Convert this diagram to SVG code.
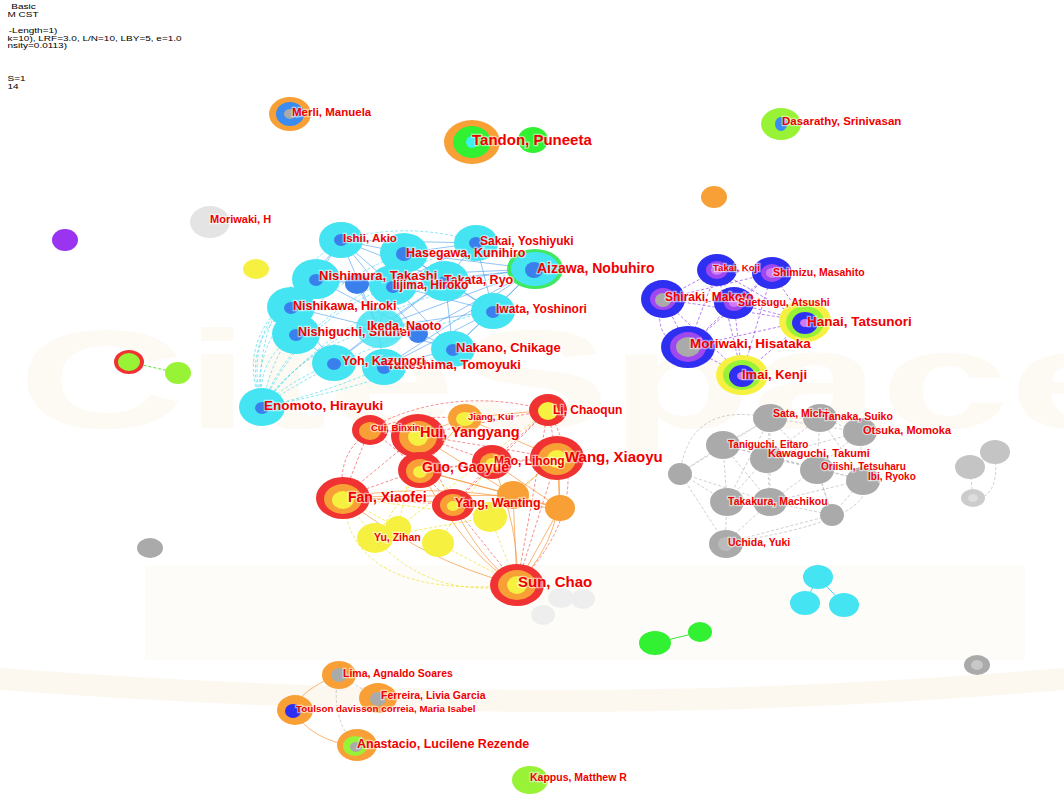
<svg xmlns="http://www.w3.org/2000/svg" width="1064" height="794" viewBox="0 0 1064 794">
<style>
text{font-family:"Liberation Sans",Arial,sans-serif;font-weight:bold;fill:#f00000;stroke:#ffffff;stroke-opacity:0.55;stroke-width:2.5px;paint-order:stroke;}
.hdr{fill:#000;stroke:none;font-weight:normal;font-size:8px}
.cy{fill:#44e4f2}.bd{fill:#3a80ec}.gr{fill:#32f032}.lg{fill:#98f236}
.bl{fill:#2f2ff2}.pu{fill:#a048f0}.pk{fill:#cf7af2}.gy{fill:#aaaaaa}
.yw{fill:#f6f040}.rd{fill:#f03232}.or{fill:#f8a036}.ly{fill:#c8c8c8}
.ec{stroke:#2a8ff0;stroke-width:0.8;fill:none;opacity:0.65}
.ec2{stroke:#40d8f0;stroke-width:0.8;fill:none;opacity:0.8;stroke-dasharray:3 2}
.ep{stroke:#9040e8;stroke-width:0.9;fill:none;opacity:0.75;stroke-dasharray:3 2}
.er{stroke:#f03030;stroke-width:0.8;fill:none;opacity:0.7;stroke-dasharray:3 2}
.eo{stroke:#f89030;stroke-width:0.9;fill:none;opacity:0.75}
.ey{stroke:#f0e030;stroke-width:0.9;fill:none;opacity:0.8;stroke-dasharray:3 2}
.eg{stroke:#a0a0a0;stroke-width:0.7;fill:none;opacity:0.7;stroke-dasharray:3 2}
.egn{stroke:#60e030;stroke-width:1;fill:none;stroke-dasharray:3 2}
</style>
<rect width="1064" height="794" fill="#ffffff"/>
<g id="watermark" opacity="0.4">
<text x="18" y="428" style="font-size:140px;fill:#fbf3e2;stroke:none" textLength="1120" lengthAdjust="spacingAndGlyphs">CiteSpace</text>
<rect x="145" y="565" width="880" height="95" fill="#fcf8ef"/>
<path d="M0,668 Q300,690 560,690 Q800,690 1064,668 L1064,690 Q800,712 560,712 Q300,712 0,690 Z" fill="#faf0dc"/>
</g>
<g id="header" transform="scale(1.25,1)">
<text class="hdr" x="9" y="9">Basic</text>
<text class="hdr" x="6" y="17">M CST</text>
<text class="hdr" x="7" y="33">-Length=1)</text>
<text class="hdr" x="6" y="41">k=10), LRF=3.0, L/N=10, LBY=5, e=1.0</text>
<text class="hdr" x="6" y="48">nsity=0.0113)</text>
<text class="hdr" x="6" y="81">S=1</text>
<text class="hdr" x="6" y="89">14</text>
</g>
<g id="connectors">
<path class="ec" d="M341,240L404,253M341,240L316,279M341,240L393,285M341,240L445,281M341,240L476,243M341,240L291,307M341,240L378,328M404,253L476,243M404,253L445,281M404,253L393,285M404,253L535,269M404,253L493,311M476,243L535,269M476,243L445,281M476,243L493,311M535,269L445,281M535,269L493,311M535,269L453,349M535,269L393,285M535,269L378,328M535,269L384,367M316,279L357,284M316,279L393,285M316,279L291,307M316,279L296,334M357,284L393,285M357,284L378,328M393,285L445,281M393,285L378,328M393,285L493,311M393,285L453,349M445,281L493,311M445,281L453,349M445,281L378,328M291,307L296,334M291,307L378,328M291,307L334,363M493,311L453,349M493,311L378,328M296,334L378,328M453,349L378,328M334,363L378,328M384,367L378,328M296,334L334,363M453,349L384,367M334,363L384,367M535,269L316,279M476,243L393,285M445,281L334,363M493,311L384,367M418,333L535,269M418,333L341,240M418,333L453,349M418,333L316,279"/>
<path class="ec2" d="M262,407Q250,300 341,240M262,407Q280,300 404,253M262,407Q300,300 476,243M262,407Q330,310 535,269M262,407Q240,320 316,279M262,407Q300,320 393,285M262,407Q330,320 445,281M262,407Q240,340 291,307M262,407Q360,340 493,311M262,407Q300,350 378,328M262,407Q255,360 296,334M262,407Q380,385 453,349M262,407Q290,380 334,363M262,407Q320,395 384,367M341,240Q440,212 535,269M291,307Q250,360 262,407M316,279Q230,330 262,407"/>
<path class="ep" d="M717,270L772,273M717,270L663,299M717,270L734,303M717,270L805,321M717,270L688,347M717,270L742,375M772,273L663,299M772,273L734,303M772,273L805,321M772,273L688,347M772,273L742,375M663,299L734,303M663,299L805,321M663,299L688,347M663,299L742,375M734,303L805,321M734,303L688,347M734,303L742,375M805,321L688,347M805,321L742,375M688,347L742,375M663,299Q650,340 688,347"/>
<path class="er" d="M343,497L370,428M343,497L418,435M343,497L420,470M343,497L453,505M370,428L418,435M370,428L420,470M418,435L420,470M418,435L492,462M418,435L548,410M418,435L557,458M418,435L453,505M420,470L492,462M420,470L453,505M420,470L557,458M492,462L557,458M492,462L548,410M492,462L453,505M548,410L557,458M548,410L453,505M548,410L517,585M557,458L517,585M453,505L517,585M370,428Q450,385 548,410M343,497Q330,410 465,418M548,410Q600,500 517,585"/>
<path class="eo" d="M343,497L513,495M343,497L560,508M420,470L513,495M420,470L560,508M418,435L513,495M492,462L560,508M557,458L513,495M557,458L560,508M513,495L517,585M560,508L517,585M465,418L418,435M465,418L548,410M465,418L557,458M465,418L420,470M343,497Q450,480 560,508M453,505Q480,560 517,585M420,470Q470,560 517,585M492,462Q520,530 517,585M343,497Q420,560 517,585M557,458Q570,530 517,585"/>
<path class="ey" d="M343,497L375,538M343,497L490,517M375,538L420,470M398,528L418,435M438,543L517,585M490,517L517,585M490,517L557,458M490,517L420,470M375,538Q430,600 517,585M343,497Q350,600 517,585M375,538L490,517M398,528L548,410M438,543L492,462M343,497L398,528"/>
<path class="eg" d="M770,418L820,418M770,418L860,432M770,418L723,445M770,418L767,457M770,418L817,468M770,418L727,502M770,418L770,502M820,418L860,432M820,418L767,457M820,418L817,468M820,418L863,480M860,432L817,468M860,432L863,480M860,432L767,457M723,445L767,457M723,445L680,473M723,445L727,502M723,445L817,468M723,445L770,502M767,457L817,468M767,457L727,502M767,457L770,502M767,457L863,480M817,468L863,480M817,468L770,502M817,468L832,515M863,480L832,515M863,480L770,502M680,473L727,502M680,473L770,418M680,473L725,543M680,473L770,502M727,502L770,502M727,502L725,543M770,502L832,515M770,502L725,543M832,515L725,543M832,515L817,468M680,473Q690,400 770,418M725,543Q880,520 863,480M970,467L995,452M970,467L973,498M995,452Q1000,500 973,498"/>
<path class="eo" d="M338,675Q300,690 293,710M293,710Q310,740 357,747"/>
<path class="eg" d="M338,675L378,698M338,675Q330,720 357,747"/>
<path class="egn" d="M129,362L178,373"/>
<path d="M655,643L700,632" stroke="#40e040" stroke-width="1"/>
<path d="M818,577L805,603M818,577L844,605" stroke="#40e0f0" stroke-width="1"/>
</g>
<g id="n-merli"><ellipse cx="290" cy="114" rx="21" ry="17" class="or"/><ellipse cx="290" cy="114" rx="14" ry="12" fill="#3a8cf0"/><ellipse cx="290" cy="114" rx="6" ry="5" class="gy"/></g>
<g id="n-tandon-g"><ellipse cx="533" cy="140" rx="15" ry="13" class="gr"/></g>
<g id="n-tandon"><ellipse cx="472" cy="142" rx="28" ry="22" class="or"/><ellipse cx="472" cy="142" rx="19" ry="16" class="gr"/><ellipse cx="472" cy="142" rx="6" ry="6" fill="#40f0f0"/></g>
<g id="n-dasarathy"><ellipse cx="781" cy="124" rx="20" ry="16" class="lg"/><ellipse cx="781" cy="124" rx="6" ry="7" fill="#3a8cf0"/></g>
<g id="n-o1"><ellipse cx="714" cy="197" rx="13" ry="11" class="or"/></g>
<g id="n-moriwakih"><ellipse cx="210" cy="222" rx="20" ry="16" fill="#e4e4e4"/></g>
<g id="n-p1"><ellipse cx="65" cy="240" rx="13" ry="11" fill="#9a34f0"/></g>
<g id="n-y1"><ellipse cx="256" cy="269" rx="13" ry="10" class="yw"/></g>
<g id="n-r1"><ellipse cx="129" cy="362" rx="15" ry="12" class="rd"/><ellipse cx="129" cy="362" rx="11" ry="9" class="lg"/></g>
<g id="n-g1"><ellipse cx="178" cy="373" rx="13" ry="11" class="lg"/></g>
<g id="n-gy1"><ellipse cx="150" cy="548" rx="13" ry="10" class="gy"/></g>
<g id="n-c1"><ellipse cx="818" cy="577" rx="15" ry="12" class="cy"/></g>
<g id="n-c2"><ellipse cx="805" cy="603" rx="15" ry="12" class="cy"/></g>
<g id="n-c3"><ellipse cx="844" cy="605" rx="15" ry="12" class="cy"/></g>
<g id="n-gn1"><ellipse cx="655" cy="643" rx="16" ry="12" class="gr"/></g>
<g id="n-gn2"><ellipse cx="700" cy="632" rx="12" ry="10" class="gr"/></g>
<g id="n-gy2"><ellipse cx="977" cy="665" rx="13" ry="10" class="gy"/><ellipse cx="977" cy="665" rx="6" ry="5" class="ly"/></g>
<g id="n-kappus"><ellipse cx="530" cy="780" rx="18" ry="14" class="lg"/></g>
<g id="n-ishii"><ellipse cx="341" cy="240" rx="22" ry="18" class="cy"/><ellipse cx="341" cy="240" rx="7" ry="6" class="bd"/></g>
<g id="n-sakai"><ellipse cx="476" cy="243" rx="22" ry="18" class="cy"/><ellipse cx="476" cy="243" rx="7" ry="6" class="bd"/></g>
<g id="n-hasegawa"><ellipse cx="404" cy="253" rx="24" ry="20" class="cy"/><ellipse cx="404" cy="254" rx="8" ry="7" class="bd"/></g>
<g id="n-aizawa"><ellipse cx="535" cy="269" rx="28" ry="20" fill="#40e860"/><ellipse cx="535" cy="269" rx="24" ry="17" class="cy"/><ellipse cx="534" cy="270" rx="9" ry="8" class="bd"/></g>
<g id="n-nishimura"><ellipse cx="316" cy="279" rx="24" ry="20" class="cy"/><ellipse cx="316" cy="280" rx="7" ry="6" class="bd"/></g>
<g id="n-b1"><ellipse cx="357" cy="284" rx="12" ry="10" class="bd"/></g>
<g id="n-iijima"><ellipse cx="393" cy="285" rx="24" ry="20" class="cy"/><ellipse cx="393" cy="287" rx="7" ry="6" class="bd"/></g>
<g id="n-takata"><ellipse cx="445" cy="281" rx="24" ry="20" class="cy"/><ellipse cx="445" cy="282" rx="7" ry="6" class="bd"/></g>
<g id="n-nishikawa"><ellipse cx="291" cy="307" rx="24" ry="20" class="cy"/><ellipse cx="291" cy="308" rx="7" ry="6" class="bd"/></g>
<g id="n-iwata"><ellipse cx="493" cy="311" rx="22" ry="18" class="cy"/><ellipse cx="493" cy="312" rx="7" ry="6" class="bd"/></g>
<g id="n-nishiguchi"><ellipse cx="296" cy="334" rx="24" ry="20" class="cy"/><ellipse cx="296" cy="335" rx="7" ry="6" class="bd"/></g>
<g id="n-ikeda"><ellipse cx="380" cy="328" rx="24" ry="20" class="cy" opacity="0.85"/><ellipse cx="418" cy="334" rx="10" ry="9" class="bd"/></g>
<g id="n-nakano"><ellipse cx="453" cy="349" rx="22" ry="18" class="cy"/><ellipse cx="453" cy="350" rx="7" ry="6" class="bd"/></g>
<g id="n-takeshima"><ellipse cx="384" cy="367" rx="22" ry="18" class="cy"/><ellipse cx="384" cy="368" rx="7" ry="6" class="bd"/></g>
<g id="n-yoh"><ellipse cx="334" cy="363" rx="22" ry="18" class="cy"/><ellipse cx="334" cy="364" rx="7" ry="6" class="bd"/></g>
<g id="n-enomoto"><ellipse cx="262" cy="407" rx="23" ry="19" class="cy"/><ellipse cx="262" cy="408" rx="7" ry="6" class="bd"/></g>
<g id="n-takai"><ellipse cx="717" cy="270" rx="20" ry="16" class="bl"/><ellipse cx="717" cy="270" rx="11" ry="9" class="pu"/><ellipse cx="717" cy="270" rx="6" ry="5" class="pk"/></g>
<g id="n-shimizu"><ellipse cx="772" cy="273" rx="20" ry="16" class="bl"/><ellipse cx="772" cy="273" rx="11" ry="9" class="pu"/><ellipse cx="772" cy="273" rx="6" ry="5" class="pk"/></g>
<g id="n-shiraki"><ellipse cx="663" cy="299" rx="22" ry="19" class="bl"/><ellipse cx="663" cy="299" rx="13" ry="11" class="pu"/><ellipse cx="663" cy="300" rx="8" ry="7" class="gy"/></g>
<g id="n-suetsugu"><ellipse cx="734" cy="303" rx="20" ry="16" class="bl"/><ellipse cx="734" cy="303" rx="10" ry="8" class="pu"/><ellipse cx="734" cy="303" rx="5" ry="4" class="pk"/></g>
<g id="n-hanai"><ellipse cx="805" cy="321" rx="26" ry="21" class="yw"/><ellipse cx="805" cy="322" rx="19" ry="16" class="lg"/><ellipse cx="805" cy="323" rx="13" ry="11" class="bl"/><ellipse cx="805" cy="323" rx="5" ry="4" class="pk"/></g>
<g id="n-moriwaki"><ellipse cx="688" cy="347" rx="27" ry="21" class="bl"/><ellipse cx="688" cy="347" rx="18" ry="15" class="pu"/><ellipse cx="688" cy="347" rx="12" ry="10" class="gy"/></g>
<g id="n-imai"><ellipse cx="742" cy="375" rx="26" ry="20" class="yw"/><ellipse cx="742" cy="375" rx="19" ry="15" class="lg"/><ellipse cx="742" cy="376" rx="13" ry="11" class="bl"/><ellipse cx="742" cy="376" rx="5" ry="4" class="pk"/></g>
<g id="n-jiang"><ellipse cx="465" cy="418" rx="17" ry="14" class="or"/><ellipse cx="465" cy="419" rx="9" ry="7" class="yw"/></g>
<g id="n-li"><ellipse cx="548" cy="410" rx="19" ry="16" class="rd"/><ellipse cx="548" cy="411" rx="10" ry="9" class="yw"/></g>
<g id="n-cui"><ellipse cx="370" cy="430" rx="18" ry="15" class="rd"/><ellipse cx="370" cy="431" rx="11" ry="9" class="or"/></g>
<g id="n-hui"><ellipse cx="418" cy="436" rx="27" ry="22" class="rd"/><ellipse cx="418" cy="437" rx="19" ry="16" class="or"/><ellipse cx="418" cy="437" rx="10" ry="9" class="yw"/></g>
<g id="n-mao"><ellipse cx="492" cy="462" rx="20" ry="17" class="rd"/><ellipse cx="492" cy="463" rx="12" ry="10" class="or"/><ellipse cx="492" cy="463" rx="6" ry="5" class="yw"/></g>
<g id="n-wang"><ellipse cx="557" cy="458" rx="27" ry="22" class="rd"/><ellipse cx="557" cy="459" rx="19" ry="16" class="or"/><ellipse cx="557" cy="459" rx="10" ry="9" class="yw"/></g>
<g id="n-guo"><ellipse cx="420" cy="470" rx="22" ry="18" class="rd"/><ellipse cx="420" cy="471" rx="14" ry="12" class="or"/><ellipse cx="420" cy="472" rx="7" ry="6" class="yw"/></g>
<g id="n-or1"><ellipse cx="513" cy="495" rx="16" ry="14" class="or"/></g>
<g id="n-or2"><ellipse cx="560" cy="508" rx="15" ry="13" class="or"/></g>
<g id="n-y2"><ellipse cx="398" cy="528" rx="13" ry="12" class="yw"/></g>
<g id="n-y3"><ellipse cx="438" cy="543" rx="16" ry="14" class="yw"/></g>
<g id="n-yy"><ellipse cx="490" cy="517" rx="17" ry="15" class="yw"/></g>
<g id="n-yu"><ellipse cx="375" cy="538" rx="18" ry="15" class="yw"/></g>
<g id="n-yang"><ellipse cx="453" cy="505" rx="21" ry="16" class="rd"/><ellipse cx="453" cy="505" rx="13" ry="11" class="or"/><ellipse cx="453" cy="506" rx="6" ry="5" class="yw"/></g>
<g id="n-fan"><ellipse cx="343" cy="498" rx="27" ry="21" class="rd"/><ellipse cx="343" cy="499" rx="19" ry="15" class="or"/><ellipse cx="343" cy="500" rx="11" ry="9" class="yw"/></g>
<g id="n-lg1"><ellipse cx="561" cy="598" rx="13" ry="10" fill="#eeeeee"/></g>
<g id="n-lg2"><ellipse cx="583" cy="599" rx="12" ry="10" fill="#eeeeee"/></g>
<g id="n-lg3"><ellipse cx="543" cy="615" rx="12" ry="10" fill="#eeeeee"/></g>
<g id="n-sun"><ellipse cx="517" cy="585" rx="27" ry="21" class="rd"/><ellipse cx="517" cy="585" rx="19" ry="15" class="or"/><ellipse cx="517" cy="585" rx="10" ry="9" class="yw"/></g>
<g id="n-sata"><ellipse cx="770" cy="418" rx="17" ry="14" class="gy"/></g>
<g id="n-tanaka"><ellipse cx="820" cy="418" rx="17" ry="14" class="gy"/></g>
<g id="n-otsuka"><ellipse cx="860" cy="432" rx="17" ry="14" class="gy"/></g>
<g id="n-taniguchi"><ellipse cx="723" cy="445" rx="17" ry="14" class="gy"/></g>
<g id="n-kawaguchi"><ellipse cx="767" cy="459" rx="17" ry="14" class="gy"/></g>
<g id="n-oriishi"><ellipse cx="817" cy="470" rx="17" ry="14" class="gy"/></g>
<g id="n-ibi"><ellipse cx="863" cy="481" rx="17" ry="14" class="gy"/></g>
<g id="n-g-s1"><ellipse cx="680" cy="474" rx="12" ry="11" class="gy"/></g>
<g id="n-g-t2"><ellipse cx="770" cy="502" rx="17" ry="14" class="gy"/></g>
<g id="n-takakura"><ellipse cx="727" cy="502" rx="17" ry="14" class="gy"/></g>
<g id="n-g-s2"><ellipse cx="832" cy="515" rx="12" ry="11" class="gy"/></g>
<g id="n-uchida"><ellipse cx="726" cy="544" rx="17" ry="14" class="gy"/><ellipse cx="726" cy="544" rx="8" ry="7" fill="#bbbbbb"/></g>
<g id="n-g-r1"><ellipse cx="970" cy="467" rx="15" ry="12" fill="#c4c4c4"/></g>
<g id="n-g-r2"><ellipse cx="995" cy="452" rx="15" ry="12" fill="#c4c4c4"/></g>
<g id="n-g-r3"><ellipse cx="973" cy="498" rx="12" ry="9" fill="#cccccc"/><ellipse cx="973" cy="498" rx="5" ry="4" fill="#dddddd"/></g>
<g id="n-lima"><ellipse cx="339" cy="675" rx="17" ry="14" class="or"/><ellipse cx="339" cy="675" rx="8" ry="7" class="gy"/></g>
<g id="n-ferreira"><ellipse cx="378" cy="698" rx="19" ry="15" class="or"/><ellipse cx="378" cy="699" rx="8" ry="7" class="gy"/></g>
<g id="n-toulson"><ellipse cx="295" cy="710" rx="18" ry="15" class="or"/><ellipse cx="293" cy="711" rx="8" ry="7" class="bl"/></g>
<g id="n-anastacio"><ellipse cx="357" cy="745" rx="20" ry="16" class="or"/><ellipse cx="355" cy="746" rx="12" ry="10" class="lg"/><ellipse cx="356" cy="747" rx="6" ry="5" class="gy"/></g>
<g id="labels">
<text style="font-size:11.5px" x="292" y="116">Merli, Manuela</text>
<text style="font-size:15px" x="472" y="145">Tandon, Puneeta</text>
<text style="font-size:11.5px" x="782" y="125">Dasarathy, Srinivasan</text>
<text style="font-size:11px" x="210" y="223">Moriwaki, H</text>
<text style="font-size:10.5px" x="530" y="781">Kappus, Matthew R</text>
<text style="font-size:11.5px" x="343" y="242">Ishii, Akio</text>
<text style="font-size:12px" x="480" y="245">Sakai, Yoshiyuki</text>
<text style="font-size:12.5px" x="406" y="257">Hasegawa, Kunihiro</text>
<text style="font-size:14px" x="537" y="273">Aizawa, Nobuhiro</text>
<text style="font-size:13px" x="319" y="280">Nishimura, Takashi</text>
<text style="font-size:12.5px" x="444" y="284">Takata, Ryo</text>
<text style="font-size:12px" x="393" y="289">Iijima, Hiroko</text>
<text style="font-size:12.5px" x="293" y="310">Nishikawa, Hiroki</text>
<text style="font-size:12px" x="496" y="313">Iwata, Yoshinori</text>
<text style="font-size:12.5px" x="298" y="336">Nishiguchi, Shuhei</text>
<text style="font-size:12.5px" x="367" y="330">Ikeda, Naoto</text>
<text style="font-size:13px" x="456" y="352">Nakano, Chikage</text>
<text style="font-size:13px" x="387" y="369">Takeshima, Tomoyuki</text>
<text style="font-size:12.5px" x="342" y="365">Yoh, Kazunori</text>
<text style="font-size:13.5px" x="264" y="410">Enomoto, Hirayuki</text>
<text style="font-size:9.5px" x="713" y="271">Takai, Koji</text>
<text style="font-size:10.5px" x="773" y="276">Shimizu, Masahito</text>
<text style="font-size:12px" x="665" y="301">Shiraki, Makoto</text>
<text style="font-size:10.5px" x="738" y="306">Suetsugu, Atsushi</text>
<text style="font-size:13.5px" x="807" y="326">Hanai, Tatsunori</text>
<text style="font-size:13.5px" x="690" y="348">Moriwaki, Hisataka</text>
<text style="font-size:13px" x="742" y="379">Imai, Kenji</text>
<text style="font-size:9.5px" x="468" y="420">Jiang, Kui</text>
<text style="font-size:12px" x="553" y="414">Li, Chaoqun</text>
<text style="font-size:9.5px" x="371" y="431">Cui, Binxin</text>
<text style="font-size:14.5px" x="420" y="437">Hui, Yangyang</text>
<text style="font-size:12px" x="494" y="465">Mao, Lihong</text>
<text style="font-size:15px" x="565" y="462">Wang, Xiaoyu</text>
<text style="font-size:14px" x="422" y="472">Guo, Gaoyue</text>
<text style="font-size:10.5px" x="374" y="541">Yu, Zihan</text>
<text style="font-size:12.5px" x="455" y="507">Yang, Wanting</text>
<text style="font-size:14px" x="348" y="502">Fan, Xiaofei</text>
<text style="font-size:15px" x="518" y="587">Sun, Chao</text>
<text style="font-size:10.5px" x="773" y="417">Sata, Michi</text>
<text style="font-size:10.5px" x="823" y="420">Tanaka, Suiko</text>
<text style="font-size:11px" x="863" y="434">Otsuka, Momoka</text>
<text style="font-size:10px" x="728" y="448">Taniguchi, Eitaro</text>
<text style="font-size:11px" x="768" y="457">Kawaguchi, Takumi</text>
<text style="font-size:10px" x="821" y="470">Oriishi, Tetsuharu</text>
<text style="font-size:10px" x="868" y="480">Ibi, Ryoko</text>
<text style="font-size:10.5px" x="728" y="505">Takakura, Machikou</text>
<text style="font-size:10.5px" x="728" y="546">Uchida, Yuki</text>
<text style="font-size:10.5px" x="343" y="677">Lima, Agnaldo Soares</text>
<text style="font-size:10.5px" x="381" y="699">Ferreira, Livia Garcia</text>
<text style="font-size:9.8px" x="296" y="712">Toulson davisson correia, Maria Isabel</text>
<text style="font-size:12.5px" x="357" y="748">Anastacio, Lucilene Rezende</text>
</g>
</svg>
